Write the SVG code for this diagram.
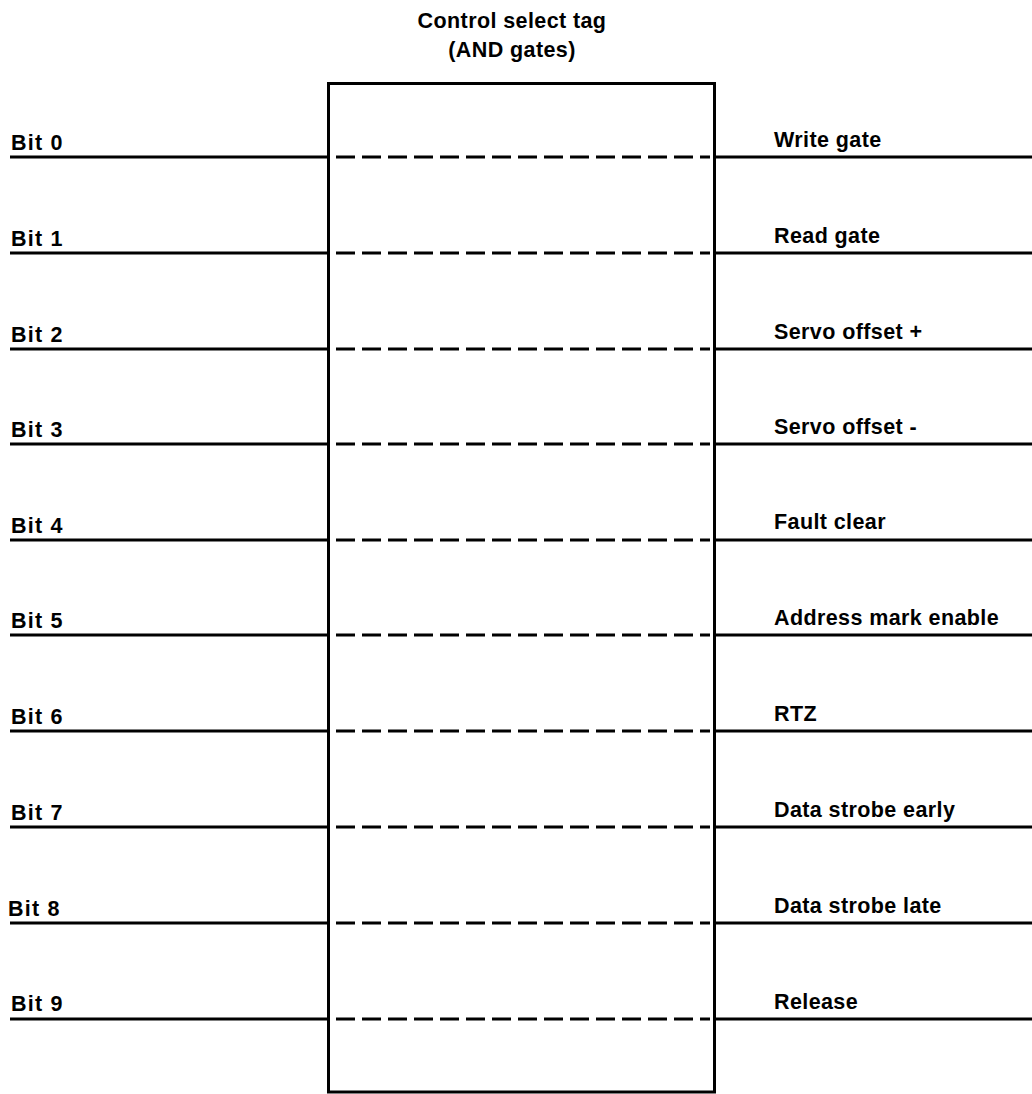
<svg xmlns="http://www.w3.org/2000/svg" width="1032" height="1094" viewBox="0 0 1032 1094">
<style>
text { font-family: "Liberation Sans", Arial, sans-serif; font-size: 21.5px; font-weight: bold; fill: #000; letter-spacing: 0.4px; }
.title { text-anchor: middle; }
.bit { letter-spacing: 1.2px; }
.wire { stroke: #000; stroke-width: 2.8; fill: none; }
.gate { stroke: #000; stroke-width: 2.8; stroke-dasharray: 19 7; fill: none; }
.box { stroke: #000; stroke-width: 3; fill: #fff; }
</style>
<rect width="1032" height="1094" fill="#fff"/>
<g id="title">
<text class="title" x="512" y="28">Control select tag</text>
<text class="title" x="512" y="57">(AND gates)</text>
</g>
<g id="box">
<rect class="box" x="328.5" y="83.5" width="386" height="1008.5"/>
</g>
<g id="connectors">
<line class="wire" x1="10" y1="157" x2="328" y2="157"/><line class="gate" x1="336" y1="157" x2="710" y2="157"/><line class="wire" x1="715" y1="157" x2="1032" y2="157"/>
<line class="wire" x1="10" y1="253" x2="328" y2="253"/><line class="gate" x1="336" y1="253" x2="710" y2="253"/><line class="wire" x1="715" y1="253" x2="1032" y2="253"/>
<line class="wire" x1="10" y1="349" x2="328" y2="349"/><line class="gate" x1="336" y1="349" x2="710" y2="349"/><line class="wire" x1="715" y1="349" x2="1032" y2="349"/>
<line class="wire" x1="10" y1="444" x2="328" y2="444"/><line class="gate" x1="336" y1="444" x2="710" y2="444"/><line class="wire" x1="715" y1="444" x2="1032" y2="444"/>
<line class="wire" x1="10" y1="540" x2="328" y2="540"/><line class="gate" x1="336" y1="540" x2="710" y2="540"/><line class="wire" x1="715" y1="540" x2="1032" y2="540"/>
<line class="wire" x1="10" y1="635" x2="328" y2="635"/><line class="gate" x1="336" y1="635" x2="710" y2="635"/><line class="wire" x1="715" y1="635" x2="1032" y2="635"/>
<line class="wire" x1="10" y1="731" x2="328" y2="731"/><line class="gate" x1="336" y1="731" x2="710" y2="731"/><line class="wire" x1="715" y1="731" x2="1032" y2="731"/>
<line class="wire" x1="10" y1="827" x2="328" y2="827"/><line class="gate" x1="336" y1="827" x2="710" y2="827"/><line class="wire" x1="715" y1="827" x2="1032" y2="827"/>
<line class="wire" x1="10" y1="923" x2="328" y2="923"/><line class="gate" x1="336" y1="923" x2="710" y2="923"/><line class="wire" x1="715" y1="923" x2="1032" y2="923"/>
<line class="wire" x1="10" y1="1019" x2="328" y2="1019"/><line class="gate" x1="336" y1="1019" x2="710" y2="1019"/><line class="wire" x1="715" y1="1019" x2="1032" y2="1019"/>
</g>
<g id="inputs">
<text class="bit" x="11" y="150">Bit 0</text>
<text class="bit" x="11" y="246">Bit 1</text>
<text class="bit" x="11" y="342">Bit 2</text>
<text class="bit" x="11" y="437">Bit 3</text>
<text class="bit" x="11" y="533">Bit 4</text>
<text class="bit" x="11" y="628">Bit 5</text>
<text class="bit" x="11" y="724">Bit 6</text>
<text class="bit" x="11" y="820">Bit 7</text>
<text class="bit" x="8" y="916">Bit 8</text>
<text class="bit" x="11" y="1011">Bit 9</text>
</g>
<g id="outputs">
<text x="774" y="147">Write gate</text>
<text x="774" y="243">Read gate</text>
<text x="774" y="339">Servo offset +</text>
<text x="774" y="434">Servo offset -</text>
<text x="774" y="529">Fault clear</text>
<text x="774" y="625">Address mark enable</text>
<text x="774" y="721">RTZ</text>
<text x="774" y="817">Data strobe early</text>
<text x="774" y="913">Data strobe late</text>
<text x="774" y="1009">Release</text>
</g>
</svg>
